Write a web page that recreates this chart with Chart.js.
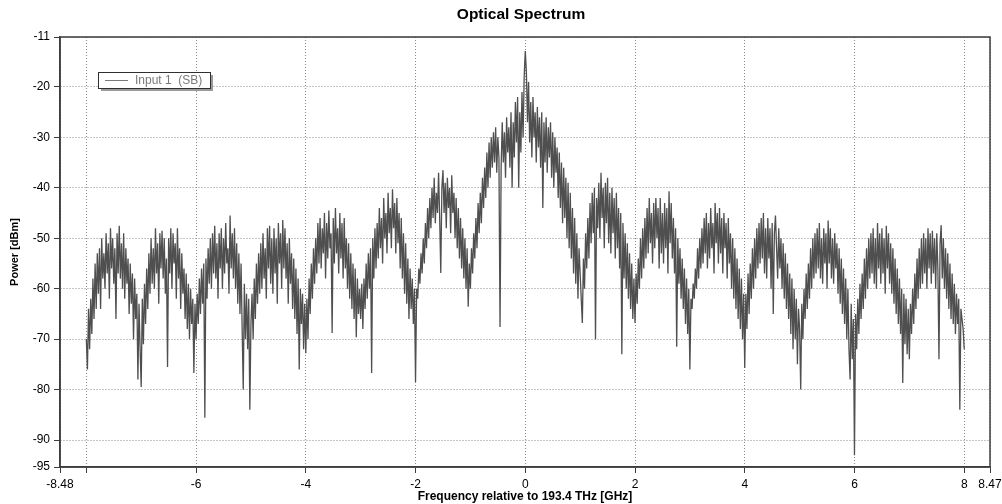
<!DOCTYPE html>
<html>
<head>
<meta charset="utf-8">
<title>Optical Spectrum</title>
<script src="https://cdn.jsdelivr.net/npm/chart.js@4.4.1/dist/chart.umd.min.js"></script>
<style>
    html, body { margin: 0; padding: 0; background: #ffffff; }
    #wrap { width: 1002px; height: 504px; position: relative; }
</style>
</head>
<body>
<div id="wrap"><canvas id="spectrum"></canvas></div>
<script>

// Frequency Grid (GHz relative to 193.4 THz)
const freqStart = -8.0;
const freqStep = 0.02;

// Power Values (dBm), one block of 50 per GHz
const powerDbm = [
    // -8 .. -7
    -70, -76, -64, -72, -62, -69, -58, -66, -55, -64,
    -53, -61, -52, -64, -50, -58, -53, -60, -49, -57,
    -51, -62, -48, -56, -50, -59, -52, -66, -49, -57,
    -47.5, -58, -51, -60, -49, -62, -52, -59, -54, -65,
    -55, -63, -57, -70, -58, -66, -61, -78, -63, -72,
    // -7 .. -6
    -79.5, -62, -71, -59, -67, -56, -64, -53, -61, -50,
    -59, -52, -60, -48, -57, -51, -63, -49, -56, -48.5,
    -58, -50, -61, -54, -75.5, -50, -57, -48, -60, -49,
    -55, -51, -62, -48, -58, -52, -64, -53, -61, -56,
    -66, -57, -68, -59, -70, -60, -67, -62, -76.7, -63,
    // -6 .. -5
    -70, -61, -67, -58, -65, -56, -63, -55, -85.6, -54,
    -62, -52, -59, -50, -60, -49, -57, -47.5, -58, -51,
    -62, -49, -56, -48, -60, -50, -57, -47, -55, -52,
    -61, -45.5, -56, -49, -58, -48, -60, -51, -63, -53,
    -65, -55, -68, -80, -59, -70, -61, -72, -62, -84,
    // -5 .. -4
    -67, -61, -70, -58, -66, -55, -63, -53, -61, -51,
    -60, -49, -58, -52, -62, -48, -56, -47.5, -59, -50,
    -61, -48, -57, -50, -63, -47, -55, -49, -60, -46.4,
    -56, -48, -58, -51, -63, -50, -59, -53, -64, -54,
    -66, -56, -69, -58, -76, -60, -67, -61, -72, -63,
    // -4 .. -3
    -72.8, -62, -70, -58, -65, -55, -62, -52, -59, -50,
    -57, -47, -55, -46, -56, -48, -53, -45, -58, -47,
    -54, -44.5, -52, -49, -68.8, -46, -55, -44, -53, -48,
    -57, -45, -54, -47, -58, -46, -56, -50, -60, -51,
    -62, -53, -64, -55, -66, -56, -69.6, -58, -65, -60,
    // -3 .. -2
    -66, -59, -68, -58, -64, -55, -62, -53, -60, -52,
    -76.7, -50, -58, -48, -56, -47, -54, -44, -52, -46,
    -55, -42, -50, -45, -53, -41, -49, -44, -52, -40.3,
    -48, -43, -53, -42, -51, -45, -56, -46, -58, -49,
    -61, -51, -63, -54, -66, -56, -64, -58, -67, -60,
    // -2 .. -1
    -78.5, -60, -62, -56, -59, -53, -57, -50, -55, -47,
    -52, -44, -50, -42, -48, -40, -46, -38, -47, -41,
    -45, -37, -46, -56.9, -40, -36.5, -45, -39, -48, -38,
    -44, -40, -49, -37.5, -45, -41, -50, -42, -52, -44,
    -54, -46, -56, -48, -58, -50, -60, -52, -63.6, -55,
    // -1 .. 0
    -60, -52, -57, -49, -54, -46, -52, -43, -49, -41,
    -47, -38, -44, -36, -42, -33, -40, -31, -38, -30,
    -36, -29, -35, -28, -37, -30, -34, -67.6, -36, -27,
    -35, -29, -38, -26, -33, -28, -36, -25, -40, -27,
    -34, -23, -31, -22, -40, -25, -33, -21, -30, -18,
    // 0 .. 1
    -12.9, -17, -27, -19, -31, -23, -34, -22, -30, -25,
    -35, -24, -32, -26, -36, -25, -44, -27, -35, -26,
    -37, -28, -34, -27, -38, -29, -40, -30, -37, -32,
    -42, -33, -44, -35, -47, -36, -46, -38, -50, -39,
    -52, -41, -54, -44, -57, -46, -59, -49, -62, -52,
    // 1 .. 2
    -57, -62, -66.8, -54, -60, -49, -56, -46, -54, -43,
    -51, -41, -49, -40, -70, -42, -48, -39, -50, -37,
    -46, -40, -52, -39, -47, -38, -51, -41, -53, -40,
    -49, -42, -54, -41, -52, -44, -56, -45, -73, -47,
    -58, -49, -60, -51, -62, -53, -64, -55, -66, -58,
    // 2 .. 3
    -66.8, -57, -63, -54, -60, -50, -58, -48, -56, -46,
    -54, -44, -53, -42, -51, -45, -55, -43, -52, -42,
    -50, -44, -56, -42, -53, -45, -55, -43, -52, -44,
    -57, -40.7, -51, -43, -54, -46, -57, -48, -71.5, -50,
    -59, -52, -62, -54, -64, -56, -67, -58, -69, -60,
    // 3 .. 4
    -76, -62, -64, -59, -62, -56, -60, -52, -58, -50,
    -56, -48, -55, -46, -53, -45, -56, -47, -54, -44,
    -52, -47, -57, -43, -51, -45, -55, -44, -53, -46,
    -57, -45, -52, -47, -58, -46, -55, -49, -60, -50,
    -62, -52, -64, -54, -66, -56, -68, -58, -70, -61,
    // 4 .. 5
    -75.7, -61, -68, -57, -65, -55, -62, -52, -60, -50,
    -58, -48, -56, -47, -55, -46, -54, -45, -57, -48,
    -58, -46, -54, -48, -60, -47, -65, -49, -45.5, -52,
    -58, -48, -56, -50, -60, -51, -62, -53, -64, -55,
    -66, -57, -69, -58, -72, -60, -70, -62, -75, -64,
    // 5 .. 6
    -68, -80, -63, -70, -60, -66, -57, -64, -55, -62,
    -52, -60, -50, -58, -49, -57, -48, -56, -47, -58,
    -50, -59, -48, -55, -49, -60, -46.5, -55, -48, -58,
    -50, -59, -49, -56, -51, -61, -52, -63, -54, -65,
    -56, -67, -58, -70, -60, -72, -78, -63, -74, -66,
    // 6 .. 7
    -93, -65, -72, -62, -69, -59, -66, -57, -64, -54,
    -62, -52, -60, -50, -58, -49, -57, -48, -59, -50,
    -60, -47, -56, -49, -59, -48, -57, -50, -61, -47.5,
    -56, -49, -59, -51, -61, -52, -63, -54, -65, -56,
    -67, -58, -69, -60, -78.7, -61, -71, -62, -73, -64,
    // 7 .. 8
    -74, -63, -69, -60, -67, -57, -64, -54, -62, -52,
    -60, -50, -59, -49, -57, -50, -60, -48, -56, -49,
    -59, -48.5, -57, -50, -60, -49, -56, -74, -51, -47.4,
    -58, -50, -60, -52, -62, -53, -64, -55, -66, -57,
    -67, -59, -69, -61, -67, -62, -84, -64, -66, -68,
    // 8
    -72
];

// Axis Ranges And Ticks
const xRange = [-8.48, 8.47];
const yRange = [-95.35, -10.1];
const xTicks = [-8.48, -8, -6, -4, -2, 0, 2, 4, 6, 8, 8.47];
const yTicks = [-95.35, -90, -80, -70, -60, -50, -40, -30, -20, -10.1];
const yTickText = { '-95.35': '-95', '-10.1': '-11' };
const hiddenXTicks = [-8];

// Labels
const seriesName = 'Input 1  (SB)';
const titleText = 'Optical Spectrum';
const xTitle = 'Frequency relative to 193.4 THz [GHz]';
const yTitle = 'Power [dBm]';

// Fonts
const fontFamily = "Arial, 'Liberation Sans', sans-serif";

// Build Points
const points = [];
for (let i = 0; i < powerDbm.length; i++) {
    points.push({ x: freqStart + i * freqStep, y: powerDbm[i] });
}

// Frame And Title Plugin
const framePlugin = {
    id: 'frame',
    afterDatasetsDraw: function (chart) {
        const a = chart.chartArea;
        const ctx = chart.ctx;
        ctx.save();
        ctx.strokeStyle = '#3c3c3c';
        ctx.lineWidth = 1.5;
        ctx.strokeRect(a.left, a.top, a.right - a.left, a.bottom - a.top);

        // Title
        ctx.fillStyle = '#000000';
        ctx.font = 'bold 15.5px ' + fontFamily;
        ctx.textAlign = 'center';
        ctx.textBaseline = 'middle';
        ctx.fillText(titleText, 521, 15);
        ctx.restore();
    }
};

// Legend Box Plugin
const legendBoxPlugin = {
    id: 'legendBox',
    afterDatasetsDraw: function (chart) {
        const ctx = chart.ctx;
        const x = 98, y = 72, w = 112, h = 16;
        ctx.save();

        // Shadow
        ctx.fillStyle = '#9a9a9a';
        ctx.fillRect(x + 3, y + 3, w, h);

        // Box
        ctx.fillStyle = '#ffffff';
        ctx.fillRect(x, y, w, h);
        ctx.strokeStyle = '#303030';
        ctx.lineWidth = 1;
        ctx.strokeRect(x + 0.5, y + 0.5, w, h);

        // Sample Line
        ctx.strokeStyle = '#7a7a7a';
        ctx.beginPath();
        ctx.moveTo(x + 7, y + 8.5);
        ctx.lineTo(x + 30, y + 8.5);
        ctx.stroke();

        // Text
        ctx.fillStyle = '#7a7a7a';
        ctx.font = '12px ' + fontFamily;
        ctx.textBaseline = 'middle';
        ctx.fillText(seriesName, x + 37, y + 9);
        ctx.restore();
    }
};

// Create Chart
const ctx = document.getElementById('spectrum').getContext('2d');
const chart = new Chart(ctx, {
    type: 'line',
    data: {
        datasets: [{
            label: seriesName,
            data: points,
            borderColor: '#4f4f4f',
            borderWidth: 1.3,
            pointRadius: 0,
            tension: 0,
            fill: false
        }]
    },
    options: {
        responsive: true,
        maintainAspectRatio: false,
        animation: false,
        parsing: false,
        events: [],
        layout: { padding: { left: 0, right: 12, top: 37, bottom: 0 } },
        plugins: {
            legend: { display: false },
            tooltip: { enabled: false },
            title: { display: false }
        },
        scales: {
            x: {
                type: 'linear',
                min: xRange[0],
                max: xRange[1],
                afterBuildTicks: function (scale) {
                    scale.ticks = xTicks.map(function (v) { return { value: v }; });
                },
                afterFit: function (scale) {
                    scale.height = 37;
                    scale.paddingLeft = 0;
                    scale.paddingRight = 0;
                },
                ticks: {
                    autoSkip: false,
                    maxRotation: 0,
                    padding: 4,
                    color: '#000000',
                    font: { family: fontFamily, size: 12 },
                    callback: function (v) {
                        if (hiddenXTicks.indexOf(v) !== -1) { return ''; }
                        return String(v);
                    }
                },
                grid: {
                    color: '#8a8a8a',
                    tickColor: '#3c3c3c',
                    tickLength: 6,
                    tickWidth: 1
                },
                border: { color: '#3c3c3c', width: 1.5, dash: [1, 2] },
                title: {
                    display: true,
                    text: xTitle,
                    color: '#000000',
                    font: { family: fontFamily, size: 12, weight: 'bold' },
                    padding: { top: 0, bottom: 0 }
                }
            },
            y: {
                type: 'linear',
                min: yRange[0],
                max: yRange[1],
                afterBuildTicks: function (scale) {
                    scale.ticks = yTicks.map(function (v) { return { value: v }; });
                },
                afterFit: function (scale) {
                    scale.width = 60;
                    scale.paddingTop = 0;
                    scale.paddingBottom = 0;
                },
                ticks: {
                    autoSkip: false,
                    padding: 4,
                    color: '#000000',
                    font: { family: fontFamily, size: 12 },
                    callback: function (v) {
                        const key = String(v);
                        if (yTickText[key]) { return yTickText[key]; }
                        return key;
                    }
                },
                grid: {
                    color: '#8a8a8a',
                    tickColor: '#3c3c3c',
                    tickLength: 6,
                    tickWidth: 1
                },
                border: { color: '#3c3c3c', width: 1.5, dash: [1, 2] },
                title: {
                    display: true,
                    text: yTitle,
                    color: '#000000',
                    font: { family: fontFamily, size: 11, weight: 'bold' },
                    padding: { top: 8, bottom: 0 }
                }
            }
        }
    },
    plugins: [framePlugin, legendBoxPlugin]
});

</script>
</body>
</html>
